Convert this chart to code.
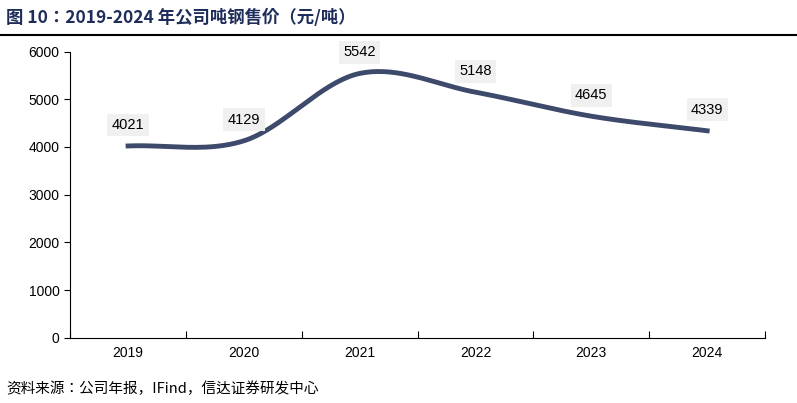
import numpy as np, pandas as pd, seaborn as sns, matplotlib
matplotlib.use("Agg")
import matplotlib.pyplot as plt

years = ["2019", "2020", "2021", "2022", "2023", "2024"]
prices = [4021, 4129, 5542, 5148, 4645, 4339]

CJK = ["Noto Sans CJK SC", "Noto Sans CJK JP", "Noto Sans CJK TC", "Noto Sans CJK KR", "DejaVu Sans"]
plt.rcParams["font.family"] = ["Liberation Sans"] + CJK
fig = plt.figure(figsize=(7.97, 4.03), dpi=100)
ax = fig.add_axes([0.088, 0.162, 0.872, 0.71])

# Catmull-Rom smoothing for rendering
x = np.arange(len(prices)); y = np.array(prices, float)
xp = np.concatenate([[2*x[0]-x[1]], x, [2*x[-1]-x[-2]]])
yp = np.concatenate([[2*y[0]-y[1]], y, [2*y[-1]-y[-2]]])
xs, ys = [], []
for i in range(1, len(xp)-2):
    t = np.linspace(0, 1, 40)
    p0, p1, p2, p3 = yp[i-1], yp[i], yp[i+1], yp[i+2]
    yy = 0.5*((2*p1) + (-p0+p2)*t + (2*p0-5*p1+4*p2-p3)*t**2 + (-p0+3*p1-3*p2+p3)*t**3)
    xs.extend(xp[i] + t); ys.extend(yy)
df = pd.DataFrame({"x": xs, "y": ys})
sns.lineplot(data=df, x="x", y="y", ax=ax, color="#3d4a6b", linewidth=3.5, sort=False)

for i, v in enumerate(prices):
    ax.text(i, v + 440, str(v), ha="center", va="center", fontsize=10.5,
            bbox=dict(boxstyle="square,pad=0.3", fc="#f0f0f0", ec="none"))

ax.set_xlim(-0.5, len(years) - 0.5)
ax.set_ylim(0, 6000)
ax.set_yticks(range(0, 6001, 1000))
ax.set_xticks(np.arange(-0.5, len(years), 1), minor=False)
ax.set_xticklabels([""] * (len(years) + 1))
ax.set_xticks(x, minor=True)
ax.set_xticklabels(years, minor=True)
ax.tick_params(axis="x", which="minor", length=0, labelsize=10, pad=6)
ax.tick_params(axis="x", which="major", length=5, direction="in")
ax.tick_params(axis="y", labelsize=10, length=4)
ax.set_xlabel(""); ax.set_ylabel("")
for s in ["top", "right"]:
    ax.spines[s].set_visible(False)

fig.text(0.008, 0.955, "图 10：2019-2024 年公司吨钢售价（元/吨）", fontsize=12.5,
         fontweight="bold", color="#1f2d5a", family=CJK, va="center")
fig.add_artist(plt.Line2D([0.0, 1.0], [0.912, 0.912], color="black", lw=1.5))
fig.text(0.008, 0.035, "资料来源：公司年报，IFind，信达证券研发中心", fontsize=10.5,
         style="italic", family=CJK, va="center")
fig.savefig("out.png", dpi=100)
